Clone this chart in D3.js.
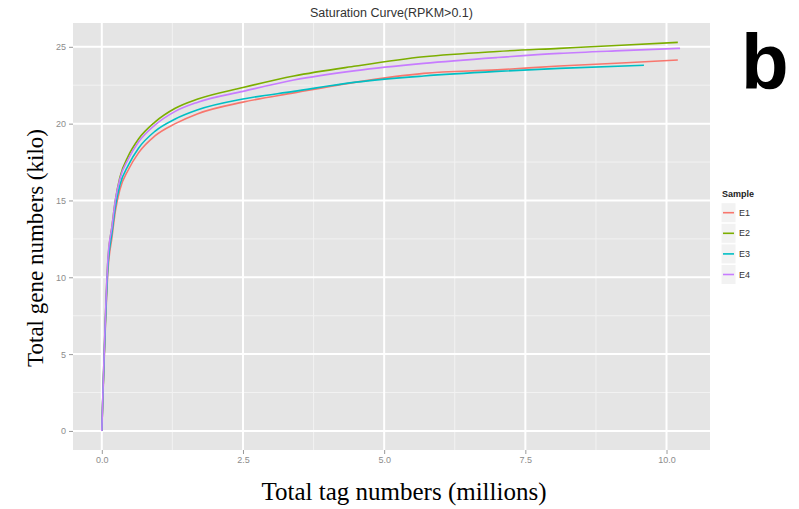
<!DOCTYPE html>
<meta charset="utf-8">
<head>
  <title>Saturation Curve</title>
  <script src="https://d3js.org/d3.v7.min.js"></script>
  <style>
    body { margin: 0; background: #fff; }
    svg { display: block; }
  </style>
</head>
<body>
<div id="chart"></div>
<script>
// data (millions of tags -> thousands of genes)
var samples = ["E1", "E2", "E3", "E4"];
var colors = ["#F8766D", "#7CAE00", "#00BFC4", "#C77CFF"];

var e1X = [0, 0.11, 0.18, 0.24, 0.32, 0.47, 0.65, 0.94, 1.3, 1.7, 2.5, 3.4, 4.5, 5.7, 7.0, 8.1, 9.2, 10.2];
var e1Y = [0, 10.5, 12.6, 14.3, 15.7, 17.0, 18.1, 19.2, 20.0, 20.65, 21.4, 22.0, 22.7, 23.27, 23.5, 23.75, 23.95, 24.14];
var e2X = [0, 0.11, 0.18, 0.24, 0.32, 0.47, 0.65, 0.94, 1.3, 1.7, 2.5, 3.4, 4.5, 5.7, 7.0, 8.1, 9.2, 10.2];
var e2Y = [0, 11.2, 13.3, 15.0, 16.5, 17.9, 19.0, 20.1, 21.0, 21.6, 22.35, 23.1, 23.75, 24.35, 24.7, 24.9, 25.1, 25.29];
var e3X = [0, 0.11, 0.18, 0.24, 0.32, 0.47, 0.65, 0.94, 1.3, 1.7, 2.5, 3.4, 4.5, 5.7, 7.0, 8.1, 9.6];
var e3Y = [0, 10.8, 12.9, 14.6, 16.0, 17.3, 18.4, 19.5, 20.3, 20.9, 21.6, 22.1, 22.7, 23.1, 23.4, 23.6, 23.8];
var e4X = [0, 0.11, 0.18, 0.24, 0.32, 0.47, 0.65, 0.94, 1.3, 1.7, 2.5, 3.4, 4.5, 5.7, 7.0, 8.1, 9.2, 10.24];
var e4Y = [0, 11.3, 13.3, 15.0, 16.4, 17.7, 18.8, 19.9, 20.8, 21.4, 22.1, 22.84, 23.45, 23.92, 24.3, 24.57, 24.75, 24.9];

var xTicks = [0, 2.5, 5, 7.5, 10];
var xTickLabels = ["0.0", "2.5", "5.0", "7.5", "10.0"];
var yTicks = [0, 5, 10, 15, 20, 25];

var W = 799, H = 509;
var panel = {left: 73, right: 710, top: 23, bottom: 450};

var svg = d3.select("#chart").append("svg")
  .attr("width", W)
  .attr("height", H);

var x = d3.scaleLinear().domain([-0.51, 10.77]).range([panel.left, panel.right]);
var y = d3.scaleLinear().domain([-1.24, 26.55]).range([panel.bottom, panel.top]);

// panel background
svg.append("rect")
  .attr("x", panel.left).attr("y", panel.top)
  .attr("width", panel.right - panel.left)
  .attr("height", panel.bottom - panel.top)
  .attr("fill", "#E5E5E5");

// minor grid
var xMinor = [1.25, 3.75, 6.25, 8.75];
var yMinor = [2.5, 7.5, 12.5, 17.5, 22.5];
svg.selectAll(".xminor").data(xMinor).enter().append("line")
  .attr("x1", d => x(d)).attr("x2", d => x(d))
  .attr("y1", panel.top).attr("y2", panel.bottom)
  .attr("stroke", "#F2F2F2").attr("stroke-width", 1);
svg.selectAll(".yminor").data(yMinor).enter().append("line")
  .attr("y1", d => y(d)).attr("y2", d => y(d))
  .attr("x1", panel.left).attr("x2", panel.right)
  .attr("stroke", "#F2F2F2").attr("stroke-width", 1);

// major grid
svg.selectAll(".xmajor").data(xTicks).enter().append("line")
  .attr("x1", d => x(d)).attr("x2", d => x(d))
  .attr("y1", panel.top).attr("y2", panel.bottom)
  .attr("stroke", "#fff").attr("stroke-width", 2);
svg.selectAll(".ymajor").data(yTicks).enter().append("line")
  .attr("y1", d => y(d)).attr("y2", d => y(d))
  .attr("x1", panel.left).attr("x2", panel.right)
  .attr("stroke", "#fff").attr("stroke-width", 2);

// axes
var xAxis = svg.append("g")
  .attr("transform", "translate(0," + panel.bottom + ")")
  .call(d3.axisBottom(x).tickValues(xTicks).tickSize(4).tickPadding(3)
    .tickFormat((d, i) => xTickLabels[i]));
var yAxis = svg.append("g")
  .attr("transform", "translate(" + panel.left + ",0)")
  .call(d3.axisLeft(y).tickValues(yTicks).tickSize(4).tickPadding(3));
[xAxis, yAxis].forEach(function(a) {
  a.select(".domain").remove();
  a.selectAll("line").attr("stroke", "#9a9a9a");
  a.selectAll("text")
    .attr("fill", "#8c8c8c")
    .style("font-family", "Liberation Sans, Arial, sans-serif")
    .style("font-size", "9px");
});

// curves
var series = [[e1X, e1Y], [e2X, e2Y], [e3X, e3Y], [e4X, e4Y]];
var line = d3.line()
  .x(d => x(d[0]))
  .y(d => y(d[1]))
  .curve(d3.curveMonotoneX);
series.forEach(function(s, i) {
  var pts = s[0].map((v, j) => [v, s[1][j]]);
  svg.append("path")
    .datum(pts)
    .attr("d", line)
    .attr("fill", "none")
    .attr("stroke", colors[i])
    .attr("stroke-width", 1.6);
});

// title
svg.append("text")
  .attr("x", (panel.left + panel.right) / 2)
  .attr("y", 17)
  .attr("text-anchor", "middle")
  .style("font-family", "Liberation Sans, Arial, sans-serif")
  .style("font-size", "12.5px")
  .attr("fill", "#333")
  .text("Saturation Curve(RPKM>0.1)");

// axis titles
svg.append("text")
  .attr("x", 404)
  .attr("y", 500)
  .attr("text-anchor", "middle")
  .style("font-family", "Liberation Serif, Times New Roman, serif")
  .style("font-size", "25px")
  .attr("fill", "#000")
  .text("Total tag numbers (millions)");

svg.append("text")
  .attr("transform", "translate(43,248) rotate(-90)")
  .attr("text-anchor", "middle")
  .style("font-family", "Liberation Serif, Times New Roman, serif")
  .style("font-size", "23px")
  .attr("fill", "#000")
  .text("Total gene numbers (kilo)");

// panel letter
svg.append("text")
  .attr("x", 741)
  .attr("y", 89)
  .style("font-family", "Liberation Sans, Arial, sans-serif")
  .style("font-size", "78px")
  .style("font-weight", "bold")
  .attr("fill", "#000")
  .text("b");

// legend
var legend = svg.append("g").attr("transform", "translate(721,0)");
legend.append("text")
  .attr("x", 1).attr("y", 197)
  .style("font-family", "Liberation Sans, Arial, sans-serif")
  .style("font-size", "9px")
  .style("font-weight", "bold")
  .attr("fill", "#222")
  .text("Sample");
var keyY = d3.scalePoint().domain(samples).range([212.7, 274.5]);
var items = legend.selectAll(".item").data(samples).enter().append("g");
items.append("rect")
  .attr("x", 0).attr("y", d => keyY(d) - 10)
  .attr("width", 15).attr("height", 20)
  .attr("fill", "#F2F2F2")
  .attr("stroke", "#fff");
items.append("line")
  .attr("x1", 2).attr("x2", 13)
  .attr("y1", d => keyY(d)).attr("y2", d => keyY(d))
  .attr("stroke", (d, i) => colors[i])
  .attr("stroke-width", 1.6);
items.append("text")
  .attr("x", 18).attr("y", d => keyY(d) + 3)
  .style("font-family", "Liberation Sans, Arial, sans-serif")
  .style("font-size", "9px")
  .attr("fill", "#333")
  .text(d => d);
</script>
</body>
